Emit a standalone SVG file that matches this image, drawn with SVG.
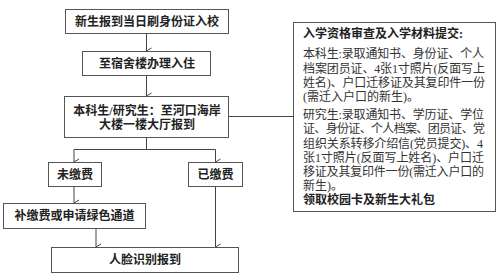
<svg xmlns="http://www.w3.org/2000/svg" width="500" height="275" viewBox="0 0 500 275">
<style>
.box{fill:#fff;stroke:#555;stroke-width:1}
.t{font-family:"Liberation Serif","Noto Sans CJK SC",serif;font-size:12px;font-weight:bold;fill:#222;text-anchor:middle}
.r{font-family:"Liberation Serif","Noto Sans CJK SC",serif;font-size:12px;fill:#333}
.rb{font-family:"Liberation Serif","Noto Sans CJK SC",serif;font-size:12px;font-weight:bold;fill:#222}
.ln{fill:none;stroke:#444;stroke-width:1}
.ar{fill:none;stroke:#444;stroke-width:1;marker-end:url(#arr)}
</style>
<defs>
<marker id="arr" markerWidth="8" markerHeight="8" refX="4" refY="7" orient="auto" markerUnits="userSpaceOnUse">
<path d="M1,2 L4,7 L7,2" fill="none" stroke="#444" stroke-width="1"/>
</marker>
</defs>
<rect width="500" height="275" fill="#fff"/>
<g id="connectors">
<line class="ar" x1="146.5" y1="33" x2="146.5" y2="51"/>
<line class="ar" x1="146.5" y1="75" x2="146.5" y2="96"/>
<line class="ln" x1="146.5" y1="137" x2="146.5" y2="149.5"/>
<line class="ln" x1="74" y1="149.5" x2="215.5" y2="149.5"/>
<line class="ar" x1="74" y1="149.5" x2="74" y2="162"/>
<line class="ar" x1="215.5" y1="149.5" x2="215.5" y2="162"/>
<line class="ar" x1="74" y1="186" x2="74" y2="203"/>
<line class="ar" x1="96" y1="228" x2="96" y2="247"/>
<line class="ar" x1="215.5" y1="186" x2="215.5" y2="247"/>
<line class="ln" x1="229" y1="116.5" x2="293" y2="116.5"/>
</g>
<g id="n1"><rect class="box" x="65.5" y="9.5" width="163" height="24"/><text class="t" x="147" y="25.5">新生报到当日刷身份证入校</text></g>
<g id="n2"><rect class="box" x="82.5" y="51.5" width="128" height="24"/><text class="t" x="147" y="67.5">至宿舍楼办理入住</text></g>
<g id="n3"><rect class="box" x="64.5" y="96.5" width="164" height="41"/><text class="t" x="147" y="114.5">本科生/研究生：至河口海岸</text><text class="t" x="147" y="128.5">大楼一楼大厅报到</text></g>
<g id="n4"><rect class="box" x="48.5" y="162.5" width="53" height="24"/><text class="t" x="75" y="178.5">未缴费</text></g>
<g id="n5"><rect class="box" x="188.5" y="162.5" width="54" height="24"/><text class="t" x="215.5" y="178.5">已缴费</text></g>
<g id="n6"><rect class="box" x="3.5" y="203.5" width="142" height="25"/><text class="t" x="74.5" y="220">补缴费或申请绿色通道</text></g>
<g id="n7"><rect class="box" x="51.5" y="247.5" width="187" height="25"/><text class="t" x="145" y="264">人脸识别报到</text></g>
<g id="n8">
<rect class="box" x="293.5" y="22.5" width="202" height="189"/>
<text class="rb" x="303" y="37.5">入学资格审查及入学材料提交:</text>
<text class="r" x="303" y="57.5" textLength="181" lengthAdjust="spacing">本科生:录取通知书、身份证、个人</text>
<text class="r" x="303" y="72.5" textLength="182" lengthAdjust="spacing">档案团员证、4张1寸照片(反面写上</text>
<text class="r" x="303" y="87" textLength="182" lengthAdjust="spacing">姓名)、户口迁移证及其复印件一份</text>
<text class="r" x="303" y="101">(需迁入户口的新生)。</text>
<text class="r" x="303" y="118.5" textLength="181" lengthAdjust="spacing">研究生:录取通知书、学历证、学位</text>
<text class="r" x="303" y="133" textLength="182" lengthAdjust="spacing">证、身份证、个人档案、团员证、党</text>
<text class="r" x="303" y="147.5" textLength="180" lengthAdjust="spacing">组织关系转移介绍信(党员提交)、4</text>
<text class="r" x="303" y="161.5" textLength="181" lengthAdjust="spacing">张1寸照片(反面写上姓名)、户口迁</text>
<text class="r" x="303" y="175.5" textLength="181" lengthAdjust="spacing">移证及其复印件一份(需迁入户口的</text>
<text class="r" x="303" y="190">新生)。</text>
<text class="rb" x="303" y="203.5">领取校园卡及新生大礼包</text>
</g>
</svg>
